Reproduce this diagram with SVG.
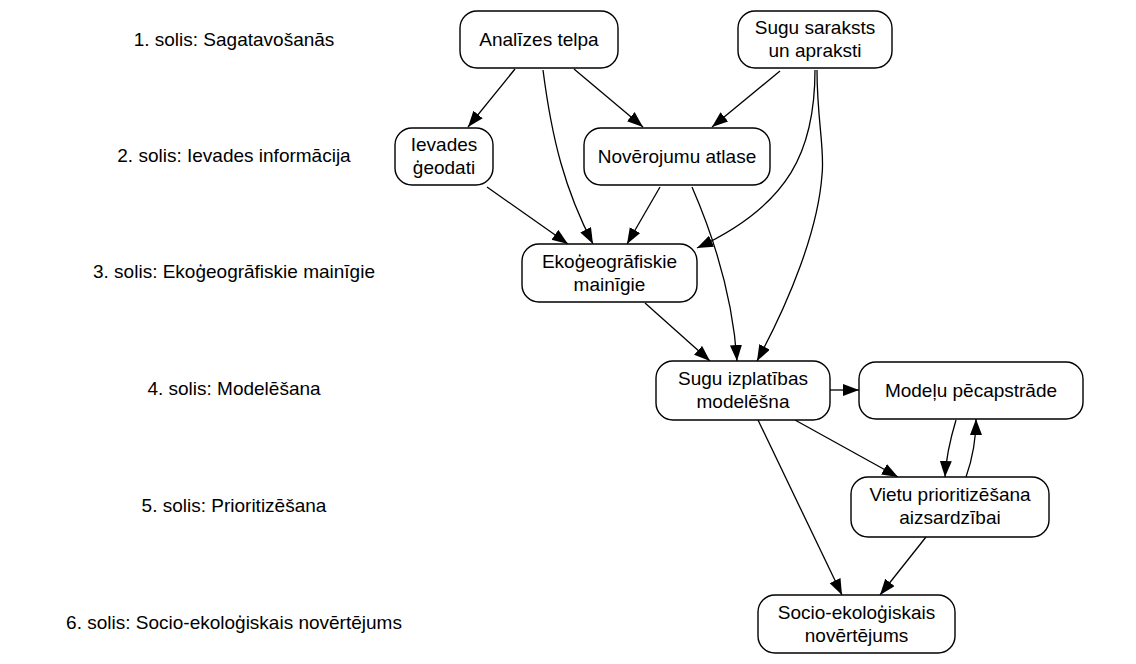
<svg xmlns="http://www.w3.org/2000/svg" width="1136" height="664" viewBox="0 0 1136 664">
<style>
  text { font-family: "Liberation Sans", Arial, Helvetica, sans-serif; font-size: 19px; fill: #000; text-anchor: middle; }
  .node rect { fill: #fff; stroke: #000; stroke-width: 1.4; }
  .edge { fill: none; stroke: #000; stroke-width: 1.3; marker-end: url(#arrow); }
</style>
<defs>
  <marker id="arrow" markerUnits="userSpaceOnUse" markerWidth="17" markerHeight="13" refX="16" refY="6" orient="auto">
    <path d="M0,0 L16,6 L0,12 Z" fill="#000"/>
  </marker>
</defs>
<rect width="1136" height="664" fill="#fff"/>
<g id="steps">
  <text x="234" y="46">1. solis: Sagatavošanās</text>
  <text x="234" y="162">2. solis: Ievades informācija</text>
  <text x="234" y="278">3. solis: Ekoģeogrāfiskie mainīgie</text>
  <text x="234" y="395">4. solis: Modelēšana</text>
  <text x="234" y="512">5. solis: Prioritizēšana</text>
  <text x="234" y="629">6. solis: Socio-ekoloģiskais novērtējums</text>
</g>
<g id="connectors">
  <path class="edge" d="M515,69 L468,127"/>
  <path class="edge" d="M543,70 C552,140 565,190 593,244"/>
  <path class="edge" d="M574,69 L643,127"/>
  <path class="edge" d="M780,71 L712,127"/>
  <path class="edge" d="M815,70 C815,150 790,205 697,248"/>
  <path class="edge" d="M817,70 C817,120 825,150 822,175 C818,230 790,300 757,361"/>
  <path class="edge" d="M487,187 L568,244"/>
  <path class="edge" d="M660,187 L627,244"/>
  <path class="edge" d="M692,187 C715,240 733,300 737,361"/>
  <path class="edge" d="M645,303 L710,361"/>
  <path class="edge" d="M830,390 L859,390"/>
  <path class="edge" d="M795,420 L898,477"/>
  <path class="edge" d="M758,420 L842,595"/>
  <path class="edge" d="M926,537 L880,595"/>
  <path class="edge" d="M956,420 C950,440 946,458 945,477"/>
  <path class="edge" d="M966,477 C972,460 976,440 976,419"/>
</g>
<g id="analizes-telpa" class="node">
  <rect x="460" y="11" width="158" height="57" rx="17"/>
  <text x="539" y="46">Analīzes telpa</text>
</g>
<g id="sugu-saraksts" class="node">
  <rect x="738" y="11" width="154" height="57" rx="17"/>
  <text x="815" y="34">Sugu saraksts</text>
  <text x="815" y="57">un apraksti</text>
</g>
<g id="ievades-geodati" class="node">
  <rect x="395" y="128" width="98" height="57" rx="17"/>
  <text x="444" y="151">Ievades</text>
  <text x="444" y="174">ģeodati</text>
</g>
<g id="noverojumu-atlase" class="node">
  <rect x="584" y="128" width="186" height="57" rx="17"/>
  <text x="677" y="163">Novērojumu atlase</text>
</g>
<g id="ekogeografiskie" class="node">
  <rect x="522" y="244" width="175" height="58" rx="17"/>
  <text x="609.5" y="268">Ekoģeogrāfiskie</text>
  <text x="609.5" y="291">mainīgie</text>
</g>
<g id="sugu-izplatibas" class="node">
  <rect x="656" y="361" width="174" height="59" rx="17"/>
  <text x="743" y="385">Sugu izplatības</text>
  <text x="743" y="408">modelēšna</text>
</g>
<g id="modelu-pecapstrade" class="node">
  <rect x="859" y="362" width="224" height="57" rx="17"/>
  <text x="971" y="397">Modeļu pēcapstrāde</text>
</g>
<g id="vietu-prioritizesana" class="node">
  <rect x="851" y="477" width="198" height="60" rx="17"/>
  <text x="950" y="501">Vietu prioritizēšana</text>
  <text x="950" y="524">aizsardzībai</text>
</g>
<g id="socio-ekologiskais" class="node">
  <rect x="758" y="595" width="197" height="58" rx="17"/>
  <text x="856.5" y="619">Socio-ekoloģiskais</text>
  <text x="856.5" y="642">novērtējums</text>
</g>
</svg>
